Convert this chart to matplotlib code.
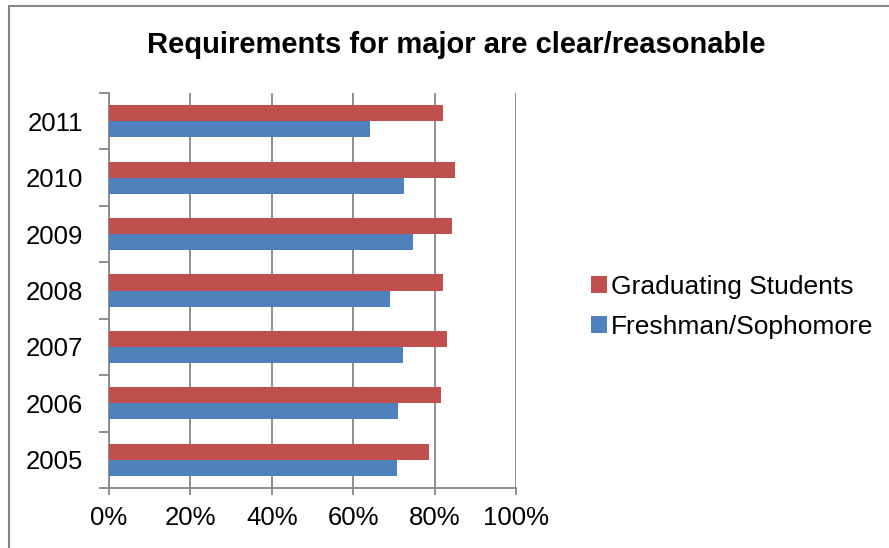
import matplotlib
matplotlib.use("Agg")
import matplotlib.pyplot as plt
from matplotlib.patches import Patch
from matplotlib.lines import Line2D
import numpy as np

plt.rcParams['font.family'] = ['Liberation Sans', 'DejaVu Sans']

years = ["2005", "2006", "2007", "2008", "2009", "2010", "2011"]
graduating = [0.786, 0.816, 0.830, 0.820, 0.842, 0.851, 0.820]
freshman = [0.707, 0.711, 0.723, 0.690, 0.747, 0.725, 0.641]
x_ticks = [0.0, 0.2, 0.4, 0.6, 0.8, 1.0]
x_tick_labels = ["0%", "20%", "40%", "60%", "80%", "100%"]

RED = "#C0504D"
BLUE = "#4F81BD"
GRID = "#868686"

W, H = 889, 548
fig = plt.figure(figsize=(W / 100, H / 100), dpi=100)

ax = fig.add_axes([109 / W, 1 - 488 / H, (516 - 109) / W, (488 - 93) / H])

y = np.arange(len(years))
h = 0.286
ax.barh(y + h / 2, graduating, height=h, color=RED, zorder=3)
ax.barh(y - h / 2, freshman, height=h, color=BLUE, zorder=3)

ax.set_xlim(0, 1)
ax.set_ylim(-0.5, len(years) - 0.5)
ax.set_xticks(x_ticks)
ax.set_xticklabels(x_tick_labels, fontsize=18.5)
ax.set_yticks(y)
ax.set_yticklabels(years, fontsize=18.5)
ax.set_yticks(np.arange(-0.5, len(years)), minor=True)

ax.tick_params(axis='y', which='major', length=0, pad=18.5)
ax.tick_params(axis='y', which='minor', length=7, color=GRID, width=1.3, direction='out')
ax.tick_params(axis='x', which='major', length=5, color=GRID, width=1.3, direction='out', pad=8)

ax.xaxis.grid(True, color=GRID, linewidth=1.3, zorder=0)
for s in ('top', 'right'):
    ax.spines[s].set_visible(False)
for s in ('left', 'bottom'):
    ax.spines[s].set_color(GRID)
    ax.spines[s].set_linewidth(1.3)

fig.text(456 / W, 1 - 45 / H, "Requirements for major are clear/reasonable",
         ha='center', va='center', fontsize=21, fontweight='bold')

handles = [Patch(facecolor=RED, edgecolor='none', label="Graduating Students"),
           Patch(facecolor=BLUE, edgecolor='none', label="Freshman/Sophomore")]
fig.legend(handles=handles, loc='center left',
           bbox_to_anchor=(591 / W, 1 - 307 / H), frameon=False,
           fontsize=19, handlelength=0.6, handleheight=0.6,
           handletextpad=0.17, labelspacing=0.6, borderaxespad=0, borderpad=0)

# outer chart frame (left and top edges)
fig.add_artist(Line2D([9 / W, 9 / W], [0, 1 - 6 / H], transform=fig.transFigure,
                      color=GRID, linewidth=1.5))
fig.add_artist(Line2D([9 / W, 1], [1 - 6 / H, 1 - 6 / H], transform=fig.transFigure,
                      color=GRID, linewidth=1.5))

fig.savefig("out.png", dpi=100)
